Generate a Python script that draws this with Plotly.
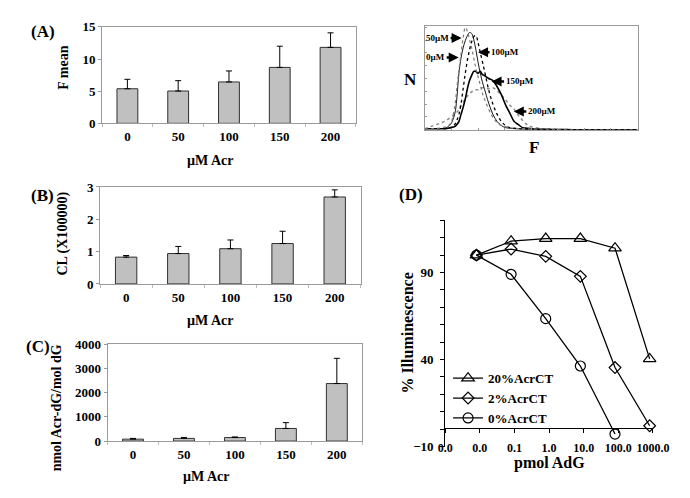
import plotly.graph_objects as go

# ---------------- data ----------------
conc = ["0", "50", "100", "150", "200"]
fmean = [5.38, 5.03, 6.44, 8.70, 11.82]
fmean_err = [1.47, 1.61, 1.71, 3.30, 2.26]
cl = [0.83, 0.94, 1.09, 1.25, 2.69]
cl_err = [0.05, 0.22, 0.27, 0.38, 0.22]
adduct = [80, 110, 145, 520, 2372]
adduct_err = [30, 40, 25, 240, 1040]

# flow cytometry histogram (arbitrary units)
hist_x = [0, 4, 8, 10, 12, 14, 15, 16, 17, 18, 19, 20, 21, 22, 23, 24, 25, 26, 27, 28,
          30, 32, 34, 36, 38, 40, 42, 44, 46, 48, 50, 55, 60, 70, 80, 90, 100]
h50 = [1, 1, 2, 3, 6, 22, 40, 58, 74, 90, 100, 96, 88, 80, 70, 60, 52, 44, 36, 30,
       20, 12, 7, 4, 3, 2, 1.5, 1, 1, 1, 0.5, 0.5, 0.3, 0, 0, 0, 0]
h0 = [1, 1, 1, 2, 5, 15, 30, 55, 70, 80, 87, 92, 95, 94, 88, 78, 66, 56, 47, 40,
      26, 15, 8, 4, 2, 1.5, 1, 0.8, 0.5, 0.5, 0.3, 0.2, 0, 0, 0, 0, 0]
h100 = [1, 1, 1, 1, 2, 5, 9, 15, 25, 40, 55, 68, 78, 86, 91, 92, 85, 76, 67, 58,
        39, 25, 15, 8, 4, 2, 1.5, 1, 0.8, 0.5, 0.3, 0.2, 0, 0, 0, 0, 0]
h150 = [1, 1, 1, 1, 2, 3, 5, 8, 15, 22, 30, 40, 48, 53, 57, 57, 55, 57, 54, 53,
        50, 48, 42, 34, 24, 16, 8, 5, 2, 1.5, 1, 0.5, 0.3, 0, 0, 0, 0]
h200 = [1, 4, 7, 9, 12, 15, 17, 20, 24, 27, 30, 33, 35, 37, 38, 39, 39, 40, 41, 41,
        40, 41, 38, 34, 29, 24, 20, 14, 9, 5, 3, 1, 0.5, 0, 0, 0, 0]

# panel D
pmol = [0.008, 0.08, 0.8, 8, 80, 800]
ct20 = [100, 108, 109.5, 109.5, 104, 40.4]
ct2 = [100, 103.5, 99.3, 87.8, 35.4, 2.0]
ct0 = [100, 89, 63.5, 36.3, -2.8]
d_tickvals = [0.001, 0.01, 0.1, 1, 10, 100, 1000]
d_ticktext = ["0.0", "0.0", "0.1", "1.0", "10.0", "100.0", "1000.0"]

W, H = 690, 498
FONT = "Liberation Serif"


def px_x(p):
    return p / W


def px_y(p):
    return 1 - p / H


fig = go.Figure()

bar_style = dict(marker=dict(color="#c0c0c0", line=dict(color="#303030", width=1)),
                 width=0.41, showlegend=False)


def err(a):
    return dict(type="data", array=a, arrayminus=[0] * len(a), symmetric=False,
                color="black", thickness=1, width=3)


fig.add_trace(go.Bar(x=conc, y=fmean, error_y=err(fmean_err), xaxis="x", yaxis="y", **bar_style))
fig.add_trace(go.Bar(x=conc, y=cl, error_y=err(cl_err), xaxis="x2", yaxis="y2", **bar_style))
fig.add_trace(go.Bar(x=conc, y=adduct, error_y=err(adduct_err), xaxis="x3", yaxis="y3", **bar_style))

# histogram curves
hist_styles = [
    (h200, dict(color="#8a8a8a", width=1.5, dash="dot")),
    (h150, dict(color="black", width=1.6)),
    (h100, dict(color="black", width=1.3, dash="dot")),
    (h0, dict(color="black", width=0.9)),
    (h50, dict(color="#7a7a7a", width=1.2, dash="dot")),
]
for ys, ln in hist_styles:
    fig.add_trace(go.Scatter(x=hist_x, y=ys, mode="lines", line=ln, line_shape="spline",
                             xaxis="x4", yaxis="y4", showlegend=False))

# panel D
fig.add_trace(go.Scatter(x=pmol, y=ct20, mode="lines+markers", name="20%AcrCT",
                         line=dict(color="black", width=1.3),
                         marker=dict(symbol="triangle-up-open", size=11, color="black", line=dict(width=1.2)),
                         xaxis="x5", yaxis="y5", cliponaxis=False))
fig.add_trace(go.Scatter(x=pmol, y=ct2, mode="lines+markers", name="2%AcrCT",
                         line=dict(color="black", width=1.3),
                         marker=dict(symbol="diamond-open", size=9, color="black", line=dict(width=1.2)),
                         xaxis="x5", yaxis="y5", cliponaxis=False))
fig.add_trace(go.Scatter(x=pmol[:len(ct0)], y=ct0, mode="lines+markers", name="0%AcrCT",
                         line=dict(color="black", width=1.3),
                         marker=dict(symbol="circle-open", size=10, color="black", line=dict(width=1.2)),
                         xaxis="x5", yaxis="y5", cliponaxis=False))

tickf = dict(family=FONT, size=13, color="black", weight="bold")
tickf_d = dict(family=FONT, size=12, color="black", weight="bold")
frame = dict(showline=True, linecolor="#9a9a9a", linewidth=1, mirror=True, showgrid=False, zeroline=False)


def bar_x(dom, anchor):
    return dict(domain=dom, anchor=anchor, type="category", tickfont=tickf, ticks="outside",
                tickson="boundaries", ticklen=3, tickcolor="#bbbbbb", ticklabelstandoff=1, **frame)


def bar_y(dom, anchor, rng, dt):
    return dict(domain=dom, anchor=anchor, range=rng, dtick=dt, tickfont=tickf, ticks="outside",
                ticklen=3, tickcolor="#9a9a9a", **frame)


fig.update_layout(
    width=W, height=H, margin=dict(l=0, r=0, t=0, b=0),
    paper_bgcolor="white", plot_bgcolor="white",
    font=dict(family=FONT, color="black", weight="bold"),
    bargap=0.59,
    xaxis=bar_x([px_x(90), px_x(352.7)], "y"),
    yaxis=bar_y([px_y(111.7), px_y(12.3)], "x", [0, 15], 5),
    xaxis2=bar_x([px_x(88), px_x(357.7)], "y2"),
    yaxis2=bar_y([px_y(277.3), px_y(177.3)], "x2", [0, 3], 1),
    xaxis3=bar_x([px_x(95.7), px_x(359.3)], "y3"),
    yaxis3=bar_y([px_y(439.3), px_y(339.3)], "x3", [0, 4000], 1000),
    xaxis4=dict(domain=[px_x(424), px_x(644)], anchor="y4", range=[0, 100], showticklabels=False,
                ticks="inside", dtick=12.5, ticklen=2, tickcolor="#9a9a9a", **frame),
    yaxis4=dict(domain=[px_y(118.3), px_y(11.7)], anchor="x4", range=[0, 101], showticklabels=False,
                ticks="inside", dtick=12.5, ticklen=2, tickcolor="#9a9a9a", **frame),
    xaxis5=dict(domain=[px_x(445), px_x(660)], anchor="free", position=px_y(426), type="log",
                range=[-3, 3], tickvals=d_tickvals, ticktext=d_ticktext, tickfont=tickf_d,
                tickangle=0, ticks="outside", ticklen=4, tickcolor="black", showline=True,
                linecolor="black", showgrid=False, zeroline=False, ticklabelstandoff=4),
    yaxis5=dict(domain=[px_y(445), px_y(211.7)], anchor="x5", range=[-10, 120],
                tickvals=[-10, 40, 90], tickfont=tickf, ticks="outside", ticklen=4, tickcolor="black",
                minor=dict(ticks="outside", tick0=-10, dtick=10, ticklen=4, tickcolor="black"),
                showline=True, linecolor="black", showgrid=False, zeroline=False,
                ticklabelstandoff=4),
    legend=dict(x=px_x(448), y=px_y(359), xanchor="left", yanchor="top",
                font=dict(family=FONT, size=13, color="black", weight="bold"),
                bgcolor="rgba(0,0,0,0)", itemwidth=30, tracegroupgap=0),
)


def ann(text, x, y, size, angle=0):
    fig.add_annotation(text=text, x=px_x(x), y=px_y(y), xref="paper", yref="paper",
                       showarrow=False, textangle=angle, xanchor="center", yanchor="middle",
                       font=dict(family=FONT, size=size, color="black", weight="bold"))


ann("(A)", 28.5, 17, 17)
ann("(B)", 28.5, 186, 17)
ann("(C)", 24, 342, 17)
ann("(D)", 410, 185, 17)
ann("F mean", 50, 54, 14, -90)
ann("CL (X100000)", 50, 225, 14, -90)
ann("nmol Acr-dG/mol dG", 43, 405, 14, -90)
ann("µM Acr", 202, 150, 14)
ann("µM Acr", 202, 315, 14)
ann("µM Acr", 198, 476, 14)
ann("N", 409, 67, 17)
ann("F", 537, 137, 17)
ann("% Illuminescence", 406, 328, 16, -90)
ann("pmol AdG", 553, 462, 16)

# histogram labels with arrows
hist_labels = [
    ("50µM", 462, 22.7, -24),
    ("0µM", 459, 43, -23),
    ("100µM", 479, 37.7, 27),
    ("150µM", 493, 68, 28),
    ("200µM", 516, 99.3, 28),
]
for t, hx, hy, dx in hist_labels:
    fig.add_annotation(text=t, x=(hx - 424) / 2.2, y=(118.3 - hy) / 1.066, xref="x4", yref="y4",
                       ax=dx, ay=0, showarrow=True, arrowhead=2, arrowsize=0.8, arrowwidth=2.5,
                       arrowcolor="black", standoff=0,
                       font=dict(family=FONT, size=9, color="black", weight="bold"))

fig.write_html("out.html")
